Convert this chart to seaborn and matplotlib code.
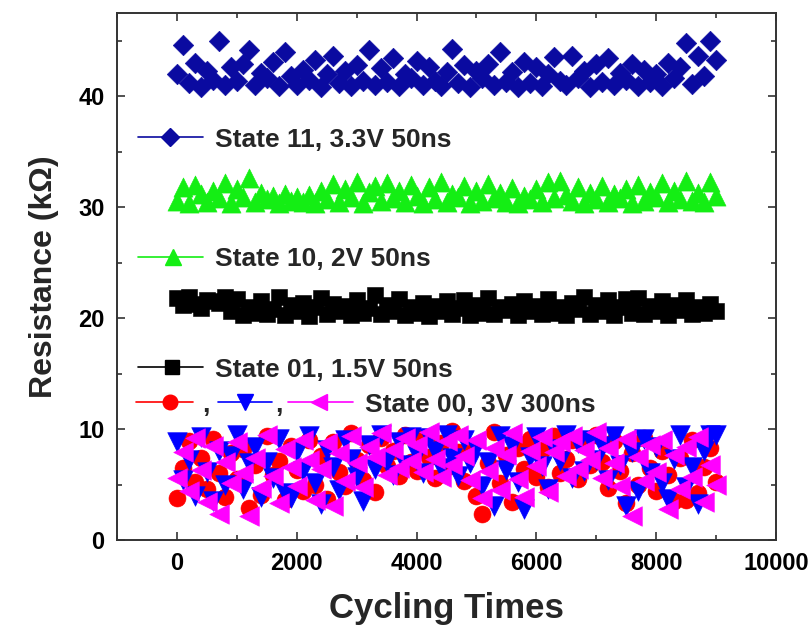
import numpy as np
import pandas as pd
import matplotlib
matplotlib.use("Agg")
import matplotlib.pyplot as plt
import seaborn as sns
from matplotlib.ticker import MultipleLocator

# ---------------- data ----------------
cycles = np.arange(0, 9001, 100)

state11 = [42.0, 44.6, 41.2, 43.0, 40.8, 42.3, 41.5, 45.0, 41.0, 42.6,
           41.4, 42.9, 44.2, 41.0, 42.1, 41.6, 43.1, 40.9, 44.0, 41.8,
           41.0, 42.4, 41.5, 43.3, 40.8, 42.0, 43.6, 41.2, 42.3, 40.9,
           42.8, 41.4, 44.2, 41.0, 42.5, 41.3, 43.4, 40.9, 42.0, 41.6,
           43.2, 41.0, 42.6, 41.4, 40.9, 42.2, 44.3, 41.2, 42.8, 40.8,
           42.3, 41.6, 42.9, 41.0, 44.0, 41.3, 42.2, 40.8, 43.1, 41.2,
           42.6, 40.9, 42.0, 43.5, 41.4, 41.0, 43.6, 41.6, 42.3, 40.8,
           42.9, 41.3, 43.4, 41.0, 42.1, 41.5, 42.9, 40.9, 42.4, 41.3,
           42.0, 40.9, 43.0, 41.6, 42.6, 44.8, 41.1, 43.6, 41.8, 45.0,
           43.3]

state10 = [30.6, 31.8, 30.4, 32.0, 31.2, 30.5, 31.5, 30.8, 32.2, 30.4,
           31.6, 30.9, 32.6, 30.5, 31.3, 30.7, 31.0, 30.4, 31.2, 30.6,
           30.9, 30.5, 31.1, 30.4, 31.5, 30.7, 32.1, 30.5, 31.6, 30.9,
           32.3, 30.4, 31.4, 31.9, 30.6, 32.2, 30.8, 31.5, 30.5, 32.0,
           31.0, 30.4, 31.8, 30.7, 32.3, 30.5, 31.2, 30.9, 31.9, 30.4,
           31.5, 30.6, 32.1, 30.8, 31.3, 30.5, 31.7, 30.4, 31.0, 30.7,
           31.6, 30.5, 32.3, 30.8, 32.4, 31.1, 30.6, 31.8, 30.4, 31.3,
           30.7, 31.9, 30.5, 31.2, 30.8, 31.6, 30.4, 32.0, 30.6, 31.4,
           30.9, 32.2, 30.5, 31.5, 30.7, 32.4, 30.6, 31.3, 30.5, 32.3,
           31.0]

state01 = [21.8, 21.2, 21.9, 21.3, 20.9, 21.6, 21.5, 21.4, 21.9, 20.6,
           21.7, 20.3, 21.0, 20.5, 21.5, 20.4, 20.8, 21.9, 20.3, 21.2,
           20.6, 21.4, 20.2, 21.0, 21.8, 20.4, 21.3, 20.6, 21.1, 20.3,
           21.6, 20.5, 20.9, 22.1, 20.4, 21.2, 20.6, 21.7, 20.3, 21.0,
           20.5, 21.4, 20.2, 21.1, 20.6, 21.5, 20.4, 20.9, 21.6, 20.3,
           21.2, 20.5, 21.8, 20.4, 21.0, 20.7, 21.3, 20.3, 21.5, 20.6,
           21.1, 20.4, 21.7, 20.5, 21.0, 20.3, 21.4, 20.8, 21.9, 20.4,
           21.2, 20.6, 21.6, 20.3, 21.0, 21.7, 20.5, 21.8, 20.4, 21.1,
           20.6, 21.5, 20.3, 21.2, 20.7, 21.6, 20.4, 21.0, 20.5, 21.3,
           20.6]

state00_red = [3.8, 6.5, 8.9, 5.2, 7.4, 4.6, 9.1, 6.0, 3.9, 7.8,
               5.5, 8.2, 2.9, 6.8, 4.1, 9.4, 5.9, 7.1, 3.6, 8.5,
               6.3, 4.4, 9.0, 5.0, 7.6, 3.7, 8.8, 6.1, 4.9, 9.6,
               7.2, 5.4, 8.6, 4.3, 9.2, 6.7, 8.0, 5.8, 9.5, 7.0,
               6.2, 9.3, 7.5, 5.6, 8.7, 6.6, 9.8, 7.9, 5.3, 8.4,
               4.0, 2.3, 6.9, 9.7, 5.1, 7.7, 3.4, 8.3, 6.4, 9.1,
               5.7, 8.1, 4.8, 9.4, 6.0, 7.3, 9.0, 5.5, 8.6, 6.8,
               9.5, 7.0, 4.7, 8.9, 6.2, 3.3, 7.8, 5.0, 9.2, 6.5,
               4.4, 8.0, 5.9, 3.5, 7.4, 3.6, 9.0, 4.2, 6.6, 8.3,
               5.2]

state00_blue = [8.8, 5.4, 7.2, 4.0, 9.3, 6.1, 3.5, 8.0, 5.0, 7.6,
                9.5, 4.6, 6.9, 8.4, 3.9, 7.0, 5.6, 9.1, 4.2, 3.8,
                7.9, 6.2, 9.4, 5.1, 3.2, 8.1, 6.6, 4.5, 9.0, 7.3,
                5.7, 3.5, 8.6, 6.4, 9.5, 7.1, 5.9, 8.8, 6.8, 9.3,
                7.7, 6.0, 9.2, 8.0, 6.5, 9.5, 7.4, 5.8, 9.0, 6.9,
                8.3, 4.9, 7.0, 3.1, 9.4, 6.3, 8.5, 5.2, 2.8, 7.5,
                9.3, 6.7, 4.6, 8.2, 7.1, 9.5, 5.6, 8.7, 6.2, 9.0,
                7.2, 8.5, 5.4, 9.4, 6.8, 3.1, 7.9, 4.4, 9.1, 6.0,
                8.4, 5.1, 3.7, 7.3, 9.5, 4.8, 6.6, 3.2, 8.0, 9.5,
                9.5]

state00_magenta = [5.6, 7.9, 4.4, 9.2, 6.3, 3.4, 8.5, 2.3, 7.0, 5.1,
                   8.8, 6.0, 2.2, 7.4, 4.7, 9.5, 5.8, 3.3, 8.2, 6.6,
                   4.9, 9.0, 7.2, 3.6, 6.4, 8.7, 3.1, 7.8, 5.3, 9.4,
                   6.9, 4.8, 8.4, 7.5, 9.6, 5.9, 8.1, 6.5, 9.2, 7.1,
                   8.6, 6.1, 9.7, 7.3, 5.7, 8.9, 6.8, 9.5, 7.6, 5.4,
                   9.0, 3.8, 6.2, 8.3, 4.5, 7.7, 9.6, 5.5, 3.9, 8.0,
                   6.7, 9.3, 4.3, 7.9, 8.8, 5.8, 9.4, 6.4, 8.1, 7.2,
                   9.7, 5.6, 8.3, 6.9, 4.9, 9.1, 2.2, 7.5, 5.3, 8.6,
                   6.1, 9.0, 2.8, 7.7, 4.6, 8.4, 5.7, 9.3, 3.4, 6.8,
                   5.0]

labels = ["State 11, 3.3V 50ns", "State 10, 2V 50ns",
          "State 01, 1.5V 50ns", "State 00, 3V 300ns"]
x_label = "Cycling Times"
y_label = "Resistance (k\u03a9)"

# ---------------- styling ----------------
sns.set_theme(style="ticks")
plt.rcParams['font.family'] = ['Liberation Sans', 'DejaVu Sans']
plt.rcParams['font.weight'] = 'bold'

NAVY = "#0a0aa0"
GREEN = "#14ee14"
BLACK = "#000000"
RED = "#ff0000"
BLUE = "#0000ff"
MAG = "#ff00ff"

fig = plt.figure(figsize=(8.09, 6.32), dpi=100)
ax = fig.add_axes([117 / 809, (632 - 540) / 632, 659 / 809, 527 / 632])

def scat(vals, marker, color, s, z):
    df = pd.DataFrame({"c": cycles, "r": vals})
    n_before = len(ax.collections)
    sns.scatterplot(data=df, x="c", y="r", marker=marker, color=color,
                    edgecolor=color, linewidth=0.4, ax=ax,
                    zorder=z, legend=False)
    coll = ax.collections[n_before]
    coll.set_sizes([s])

scat(state11, "D", NAVY, 110, 3)
scat(state10, "^", GREEN, 190, 3)
scat(state01, "s", BLACK, 120, 3)
scat(state00_red, "o", RED, 150, 3)
scat(state00_blue, "v", BLUE, 200, 4)
scat(state00_magenta, "<", MAG, 200, 5)

ax.set_xlim(-1000, 10000)
ax.set_ylim(0, 47.5)
ax.xaxis.set_major_locator(MultipleLocator(2000))
ax.xaxis.set_minor_locator(MultipleLocator(1000))
ax.yaxis.set_major_locator(MultipleLocator(10))
ax.yaxis.set_minor_locator(MultipleLocator(5))
ax.tick_params(which='both', direction='in', top=True, right=True,
               width=1.2, colors='#333333', labelcolor='black',
               labelsize=17, pad=9)
ax.tick_params(which='major', length=6)
ax.tick_params(which='minor', length=3.5)
for lab in ax.get_xticklabels() + ax.get_yticklabels():
    lab.set_fontweight('bold')
for sp in ax.spines.values():
    sp.set_linewidth(1.4)
    sp.set_color('#333333')

ax.set_xlabel(x_label, fontsize=25, fontweight='bold', labelpad=12)
ax.set_ylabel(y_label, fontsize=23, fontweight='bold', labelpad=14)

# ---------------- in-plot legend (Origin style) ----------------
T = ax.transAxes
FS = 19
dy = 0.018

def handle(x0, x1, xm, y, marker, color, ms):
    ax.plot([x0, x1], [y, y], color=color, lw=1.2, transform=T,
            clip_on=False, zorder=6)
    ax.plot([xm], [y], marker=marker, color=color, ms=ms, lw=0,
            transform=T, clip_on=False, zorder=7)

rows = [0.764, 0.537, 0.328, 0.261]
handle(0.032, 0.130, 0.080, rows[0], "D", NAVY, 9)
handle(0.032, 0.130, 0.085, rows[1], "^", GREEN, 12)
handle(0.032, 0.130, 0.083, rows[2], "s", BLACK, 9.5)
for y, lab in zip(rows[:3], labels[:3]):
    ax.text(0.149, y - dy, lab, transform=T, fontsize=FS,
            fontweight='bold', va='baseline', ha='left', zorder=8)

y0 = rows[3]
handle(0.029, 0.115, 0.080, y0, "o", RED, 10.5)
ax.text(0.135, y0 - dy, ",", transform=T, fontsize=FS,
        fontweight='bold', va='baseline', ha='center')
handle(0.153, 0.235, 0.194, y0, "v", BLUE, 12)
ax.text(0.246, y0 - dy, ",", transform=T, fontsize=FS,
        fontweight='bold', va='baseline', ha='center')
handle(0.259, 0.358, 0.307, y0, "<", MAG, 12)
ax.text(0.376, y0 - dy, labels[3], transform=T, fontsize=FS,
        fontweight='bold', va='baseline', ha='left', zorder=8)

fig.savefig("out.png", dpi=100)
